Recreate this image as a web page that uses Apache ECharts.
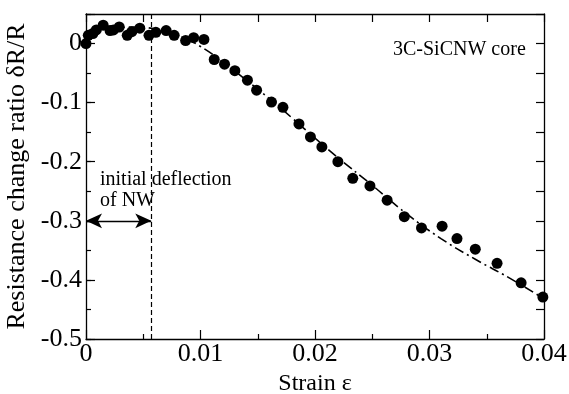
<!DOCTYPE html>
<html><head><meta charset="utf-8">
<script src="https://cdn.jsdelivr.net/npm/echarts@6/dist/echarts.min.js"></script>
<style>html,body{margin:0;padding:0;background:#fff}#c{width:569px;height:394px}</style>
</head><body><div id="c"></div>
<script>
// measured points (strain, dR/R)
const strainPts = [0.0000,0.0002,0.0006,0.0009,0.0015,0.0021,0.0024,0.0029,0.0036,0.0040,0.0047,0.0055,0.0061,0.0070,0.0077,0.0087,0.0094,0.0103,0.0112,0.0121,0.0130,0.0141,0.0149,0.0162,0.0172,0.0186,0.0196,0.0206,0.0220,0.0233,0.0248,0.0263,0.0278,0.0293,0.0311,0.0324,0.0340,0.0359,0.0380,0.0399];
const ratioPts  = [0.000,0.014,0.017,0.023,0.031,0.022,0.023,0.028,0.014,0.020,0.026,0.014,0.019,0.022,0.014,0.005,0.010,0.007,-0.027,-0.035,-0.046,-0.062,-0.079,-0.099,-0.108,-0.136,-0.158,-0.175,-0.200,-0.228,-0.241,-0.265,-0.293,-0.312,-0.309,-0.330,-0.348,-0.372,-0.405,-0.429];
// fitted curve (dash-dot)
const fitStrain = [0.002,0.004,0.006,0.008,0.010,0.012,0.014,0.016,0.018,0.020,0.022,0.025,0.028,0.031,0.034,0.037,0.040];
const fitRatio  = [0.025,0.028,0.025,0.014,-0.005,-0.032,-0.062,-0.093,-0.126,-0.160,-0.193,-0.240,-0.288,-0.330,-0.365,-0.397,-0.432];
const deflectionStrain = 0.0057;
const arrowRatio = -0.3;
const xTicks = [0,0.01,0.02,0.03,0.04];
const yTicks = [-0.5,-0.4,-0.3,-0.2,-0.1,0];

const F = "'Liberation Serif','Times New Roman',serif";
const chart = echarts.init(document.getElementById('c'));
const axLine = {show:true, onZero:false, lineStyle:{color:'#000', width:1.3}};
const fmtX = v => { const m = xTicks.find(t=>Math.abs(t-v)<1e-9); return m===undefined?'':String(m); };
const fmtY = v => { const m = yTicks.find(t=>Math.abs(t-v)<1e-9); return m===undefined?'':String(m); };
const dashedV = {type:[5,3], width:1.2, color:'#000'};
chart.setOption({
  animation:false,
  grid:{left:86, right:25, top:14, bottom:55, containLabel:false, outerBoundsMode:'none'},
  xAxis:[
    {type:'value', position:'bottom', min:0, max:0.04, interval:0.01,
     axisLine:axLine, splitLine:{show:false},
     axisTick:{inside:true, length:9, lineStyle:{color:'#000', width:1.2}},
     minorTick:{show:true, splitNumber:2, length:5, lineStyle:{color:'#000', width:1.2}},
     axisLabel:{formatter:fmtX, color:'#000', fontFamily:F, fontSize:26, margin:3, lineHeight:24},
     name:'Strain ε', nameLocation:'middle', nameGap:26,
     nameTextStyle:{color:'#000', fontFamily:F, fontSize:24, lineHeight:24}},
    {type:'value', position:'top', min:0, max:0.04, interval:0.005,
     axisLine:axLine, splitLine:{show:false},
     axisTick:{inside:true, length:8, lineStyle:{color:'#000', width:1.2}},
     axisLabel:{show:false}}
  ],
  yAxis:[
    {type:'value', position:'left', min:-0.5, max:0.05, interval:0.1,
     axisLine:axLine, splitLine:{show:false},
     axisTick:{inside:true, length:9, lineStyle:{color:'#000', width:1.2}},
     axisLabel:{formatter:fmtY, color:'#000', fontFamily:F, fontSize:26, margin:4},
     name:'Resistance change ratio δR/R', nameLocation:'middle', nameGap:50,
     nameTextStyle:{color:'#000', fontFamily:F, fontSize:26}},
    {type:'value', position:'left', min:-0.5, max:0.05, interval:0.05,
     axisLine:{show:false, onZero:false}, splitLine:{show:false},
     axisTick:{inside:true, length:5, lineStyle:{color:'#000', width:1.2}},
     axisLabel:{show:false}},
    {type:'value', position:'right', min:-0.5, max:0.05, interval:0.05,
     axisLine:axLine, splitLine:{show:false},
     axisTick:{inside:true, length:8, lineStyle:{color:'#000', width:1.2}},
     axisLabel:{show:false}}
  ],
  series:[
    {type:'line', data:fitStrain.map((x,i)=>[x,fitRatio[i]]), smooth:true, symbol:'none',
     lineStyle:{color:'#000', width:1.6, type:[10,4,2,4]}, z:2},
    {type:'scatter', data:strainPts.map((x,i)=>[x,ratioPts[i]]), symbol:'circle', symbolSize:11,
     itemStyle:{color:'#000', opacity:1}, z:3,
     markLine:{silent:true, animation:false, label:{show:false},
       symbolSize:[11,16],
       lineStyle:{color:'#000', width:1.3, type:'solid'},
       data:[
         [{coord:[deflectionStrain,0.05], symbol:'none', lineStyle:dashedV},{coord:[deflectionStrain,-0.5], symbol:'none'}],
         [{coord:[0,arrowRatio], symbol:'arrow'},{coord:[deflectionStrain,arrowRatio], symbol:'arrow'}]
       ]}
    }
  ],
  graphic:[
    {type:'text', left:393, top:40, style:{text:'3C-SiCNW core', font:"20px "+F, fill:'#000'}},
    {type:'text', left:100, top:170, style:{text:'initial deflection', font:"20px "+F, fill:'#000'}},
    {type:'text', left:100, top:191, style:{text:'of NW', font:"20px "+F, fill:'#000'}}
  ]
});
</script></body></html>
